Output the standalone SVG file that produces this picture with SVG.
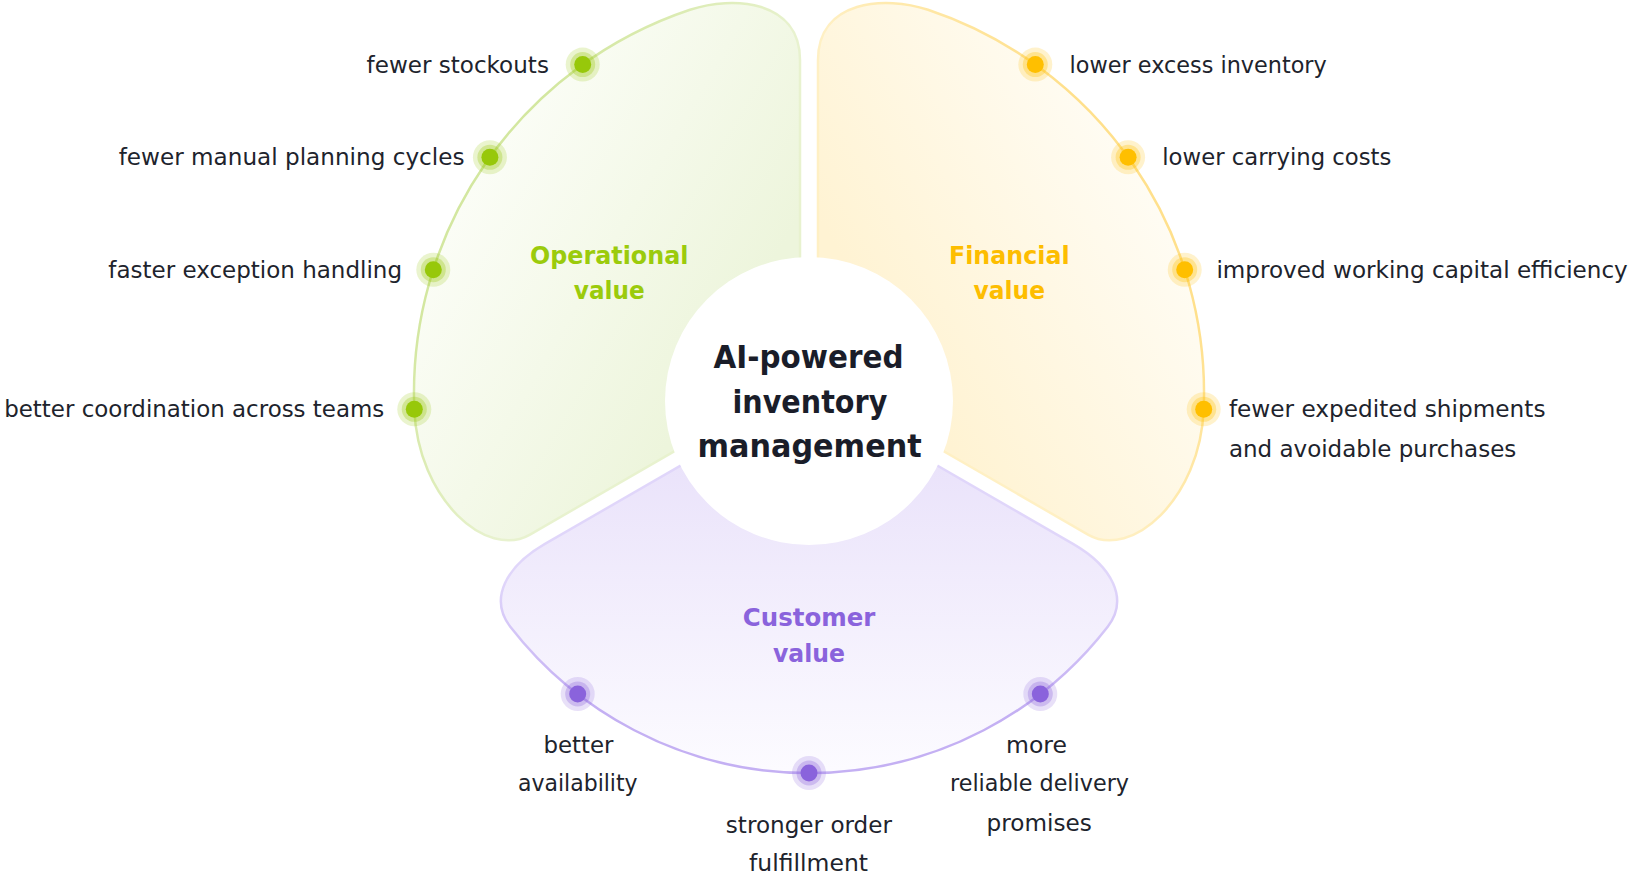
<svg xmlns="http://www.w3.org/2000/svg" xmlns:xlink="http://www.w3.org/1999/xlink" width="1633" height="882" viewBox="0 0 1633 882">
  <style>
    .item { font-family: "DejaVu Sans", "Liberation Sans", sans-serif; font-size: 22.5px; fill: #20232c; }
    .cat { font-family: "DejaVu Sans", "Liberation Sans", sans-serif; font-size: 25px; font-weight: bold; }
    .title { font-family: "DejaVu Sans", "Liberation Sans", sans-serif; font-size: 32px; font-weight: bold; fill: #1a1d29; }
    .sector { stroke-width: 2.5; stroke-linejoin: round; }
  </style>
  <defs>
    <linearGradient id="gFill" gradientUnits="userSpaceOnUse" x1="722" y1="351" x2="463" y2="201">
      <stop offset="0" stop-color="#edf5dc"/>
      <stop offset="1" stop-color="#fbfdf6"/>
    </linearGradient>
    <linearGradient id="yFill" gradientUnits="userSpaceOnUse" x1="896" y1="351" x2="1155" y2="201">
      <stop offset="0" stop-color="#fff3d3"/>
      <stop offset="1" stop-color="#fffcf3"/>
    </linearGradient>
    <linearGradient id="pFill" gradientUnits="userSpaceOnUse" x1="809" y1="430" x2="809" y2="770">
      <stop offset="0" stop-color="#e8e0fa"/>
      <stop offset="1" stop-color="#fcfbff"/>
    </linearGradient>
    <linearGradient id="gStroke" gradientUnits="userSpaceOnUse" x1="636" y1="301" x2="480" y2="211">
      <stop offset="0" stop-color="#e8f2cf"/>
      <stop offset="1" stop-color="#d3e7a0"/>
    </linearGradient>
    <linearGradient id="yStroke" gradientUnits="userSpaceOnUse" x1="982" y1="301" x2="1138" y2="211">
      <stop offset="0" stop-color="#fff0c4"/>
      <stop offset="1" stop-color="#ffe08c"/>
    </linearGradient>
    <linearGradient id="pStroke" gradientUnits="userSpaceOnUse" x1="809" y1="580" x2="809" y2="700">
      <stop offset="0" stop-color="#e0d6fa"/>
      <stop offset="1" stop-color="#c4b0f3"/>
    </linearGradient>
    <g id="dot">
      <circle r="17" fill="currentColor" opacity="0.2"/>
      <circle r="12.5" fill="currentColor" opacity="0.3"/>
      <circle r="8.5" fill="currentColor"/>
    </g>
  </defs>

  <!-- sectors -->
  <g id="sector-operational">
    <path class="sector" fill="url(#gFill)" stroke="url(#gStroke)" d="M 800,378.7 L 800,60 C 800,0 732.7,-4.5 690,9.8 A 404 404 0 0 0 414.3,409.3 C 417.9,499.3 486.7,559.6 530,534.6 Z"/>
    <text class="cat" fill="#9bcb0c" x="530.1" y="263.5" textLength="158.3" lengthAdjust="spacingAndGlyphs">Operational</text>
    <text class="cat" fill="#9bcb0c" x="573.8" y="298.5" textLength="70.8" lengthAdjust="spacingAndGlyphs">value</text>
  </g>
  <g id="sector-financial">
    <path class="sector" fill="url(#yFill)" stroke="url(#yStroke)" d="M 818,378.7 L 818,60 C 818,0 885.3,-4.5 928,9.8 A 404 404 0 0 1 1203.7,409.3 C 1200.1,499.3 1131.3,559.6 1088,534.6 Z"/>
    <text class="cat" fill="#fdbd00" x="949" y="263.5" textLength="120.6" lengthAdjust="spacingAndGlyphs">Financial</text>
    <text class="cat" fill="#fdbd00" x="973.5" y="298.5" textLength="71.5" lengthAdjust="spacingAndGlyphs">value</text>
  </g>
  <g id="sector-customer">
    <path class="sector" fill="url(#pFill)" stroke="url(#pStroke)" d="M 809,391.5 L 545,543.9 C 506,566.4 488.8,599 510.3,626.7 A 378 378 0 0 0 1107.7,626.7 C 1129.2,599 1112,566.4 1073,543.9 Z"/>
    <text class="cat" fill="#8a63dc" x="742.8" y="626" textLength="132.6" lengthAdjust="spacingAndGlyphs">Customer</text>
    <text class="cat" fill="#8a63dc" x="773" y="661.5" textLength="72" lengthAdjust="spacingAndGlyphs">value</text>
  </g>

  <!-- center -->
  <g id="center">
    <circle cx="809" cy="401" r="144" fill="#ffffff"/>
    <text class="title" x="713.5" y="368" textLength="190" lengthAdjust="spacingAndGlyphs">AI-powered</text>
    <text class="title" x="732.5" y="412.5" textLength="154.8" lengthAdjust="spacingAndGlyphs">inventory</text>
    <text class="title" x="697.5" y="457" textLength="224.2" lengthAdjust="spacingAndGlyphs">management</text>
  </g>

  <!-- operational items -->
  <g id="item-fewer-stockouts">
    <use xlink:href="#dot" href="#dot" x="582.7" y="64.6" color="#97c80a"/>
    <text class="item" x="366.6" y="72.6" textLength="182.3" lengthAdjust="spacingAndGlyphs">fewer stockouts</text>
  </g>
  <g id="item-fewer-manual-planning">
    <use xlink:href="#dot" href="#dot" x="489.9" y="157.3" color="#97c80a"/>
    <text class="item" x="118.7" y="165.3" textLength="345.8" lengthAdjust="spacingAndGlyphs">fewer manual planning cycles</text>
  </g>
  <g id="item-faster-exception">
    <use xlink:href="#dot" href="#dot" x="433.3" y="269.7" color="#97c80a"/>
    <text class="item" x="108.3" y="277.7" textLength="293.7" lengthAdjust="spacingAndGlyphs">faster exception handling</text>
  </g>
  <g id="item-better-coordination">
    <use xlink:href="#dot" href="#dot" x="414.3" y="409.3" color="#97c80a"/>
    <text class="item" x="4.2" y="417.3" textLength="380.1" lengthAdjust="spacingAndGlyphs">better coordination across teams</text>
  </g>

  <!-- financial items -->
  <g id="item-lower-excess">
    <use xlink:href="#dot" href="#dot" x="1035.3" y="64.6" color="#ffbf00"/>
    <text class="item" x="1069.6" y="72.6" textLength="257.2" lengthAdjust="spacingAndGlyphs">lower excess inventory</text>
  </g>
  <g id="item-lower-carrying">
    <use xlink:href="#dot" href="#dot" x="1128.1" y="157.3" color="#ffbf00"/>
    <text class="item" x="1162.3" y="165.3" textLength="229.1" lengthAdjust="spacingAndGlyphs">lower carrying costs</text>
  </g>
  <g id="item-working-capital">
    <use xlink:href="#dot" href="#dot" x="1184.7" y="269.7" color="#ffbf00"/>
    <text class="item" x="1216.4" y="277.7" textLength="411.4" lengthAdjust="spacingAndGlyphs">improved working capital efficiency</text>
  </g>
  <g id="item-fewer-expedited">
    <use xlink:href="#dot" href="#dot" x="1203.7" y="409.3" color="#ffbf00"/>
    <text class="item" x="1228.9" y="417.3" textLength="316.6" lengthAdjust="spacingAndGlyphs">fewer expedited shipments</text>
    <text class="item" x="1228.9" y="456.9" textLength="287.4" lengthAdjust="spacingAndGlyphs">and avoidable purchases</text>
  </g>

  <!-- customer items -->
  <g id="item-better-availability">
    <use xlink:href="#dot" href="#dot" x="577.7" y="694" color="#8a63dc"/>
    <text class="item" x="543.5" y="753" textLength="70" lengthAdjust="spacingAndGlyphs">better</text>
    <text class="item" x="518" y="791.3" textLength="119.6" lengthAdjust="spacingAndGlyphs">availability</text>
  </g>
  <g id="item-stronger-fulfillment">
    <use xlink:href="#dot" href="#dot" x="809" y="773" color="#8a63dc"/>
    <text class="item" x="725.8" y="833" textLength="166.2" lengthAdjust="spacingAndGlyphs">stronger order</text>
    <text class="item" x="749" y="871.3" textLength="119" lengthAdjust="spacingAndGlyphs">fulfillment</text>
  </g>
  <g id="item-reliable-delivery">
    <use xlink:href="#dot" href="#dot" x="1040.3" y="694" color="#8a63dc"/>
    <text class="item" x="1006" y="753" textLength="61" lengthAdjust="spacingAndGlyphs">more</text>
    <text class="item" x="950" y="791.3" textLength="179" lengthAdjust="spacingAndGlyphs">reliable delivery</text>
    <text class="item" x="986.6" y="830.7" textLength="105.2" lengthAdjust="spacingAndGlyphs">promises</text>
  </g>
</svg>
